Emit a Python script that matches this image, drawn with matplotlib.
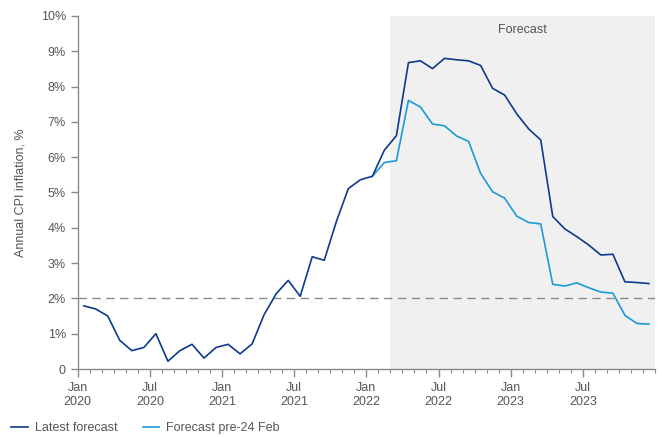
import numpy as np
import matplotlib.pyplot as plt

plt.rcParams['font.family'] = ['Liberation Sans', 'DejaVu Sans']

# monthly CPI, Jan 2020 .. Dec 2023
latest = [1.79, 1.70, 1.50, 0.81, 0.52, 0.61, 1.00, 0.22, 0.52, 0.70, 0.31, 0.61,
          0.70, 0.43, 0.71, 1.54, 2.13, 2.51, 2.06, 3.18, 3.08, 4.17, 5.11, 5.36,
          5.46, 6.20, 6.61, 8.68, 8.73, 8.51, 8.80, 8.76, 8.73, 8.60, 7.95, 7.76,
          7.23, 6.80, 6.49, 4.32, 3.97, 3.75, 3.51, 3.23, 3.25, 2.47, 2.45, 2.42]
# forecast before 24 Feb, Jan 2022 .. Dec 2023
pre_feb = [5.46, 5.85, 5.90, 7.61, 7.42, 6.94, 6.89, 6.60, 6.45, 5.54, 5.02, 4.84,
           4.33, 4.15, 4.11, 2.40, 2.35, 2.44, 2.30, 2.18, 2.15, 1.52, 1.29, 1.27]
tick_labels = ['Jan\n2020', 'Jul\n2020', 'Jan\n2021', 'Jul\n2021', 'Jan\n2022',
               'Jul\n2022', 'Jan\n2023', 'Jul\n2023']
forecast_start = 26  # months after Jan 2020
target = 2.0

dark = '#0d3a8c'
light = '#1b9ad8'
grey = '#555555'
fs = 9

fig = plt.figure(figsize=(6.62, 4.37), dpi=100)
ax = fig.add_axes([0.1174, 0.1556, 0.8720, 0.8078])

x_latest = np.arange(len(latest)) + 0.5
x_pre = np.arange(len(pre_feb)) + 24.5

ax.axvspan(forecast_start, 48, color='#f0f0f0', lw=0, zorder=0)
ax.text((forecast_start + 48) / 2, 9.6, 'Forecast', ha='center', va='center',
        fontsize=fs, color=grey)
ax.axhline(target, color='#8a8a8a', lw=1, ls=(0, (6, 4)), zorder=1)

ax.plot(x_pre, pre_feb, color=light, lw=1.2, label='Forecast pre-24 Feb', zorder=2)
ax.plot(x_latest, latest, color=dark, lw=1.2, label='Latest forecast', zorder=3)

ax.set_xlim(0, 48)
ax.set_ylim(0, 10)
ax.set_xticks(np.arange(0, 48, 6))
ax.set_xticklabels(tick_labels)
ax.set_xticks(np.arange(0, 49, 1), minor=True)
ax.set_yticks(np.arange(0, 11, 1))
ax.set_yticklabels(['0'] + ['%d%%' % v for v in range(1, 11)])

for s in ['top', 'right']:
    ax.spines[s].set_visible(False)
for s in ['left', 'bottom']:
    ax.spines[s].set_color('#8a8a8a')
    ax.spines[s].set_linewidth(1)
ax.tick_params(axis='both', which='major', colors='#8a8a8a', labelcolor=grey,
               labelsize=fs, length=6, width=1)
ax.tick_params(axis='x', which='minor', colors='#8a8a8a', length=3, width=0.8)
ax.tick_params(axis='y', which='major', length=5)

ax.set_ylabel('Annual CPI inflation, %', fontsize=fs, color=grey, labelpad=10)

h, l = ax.get_legend_handles_labels()
fig.legend(h[::-1], l[::-1], loc='lower left', bbox_to_anchor=(0.0, -0.02), ncol=2,
           frameon=False, fontsize=fs, labelcolor=grey, handlelength=1.3,
           handletextpad=0.6, columnspacing=2.0)

fig.savefig('out.png', dpi=100)
